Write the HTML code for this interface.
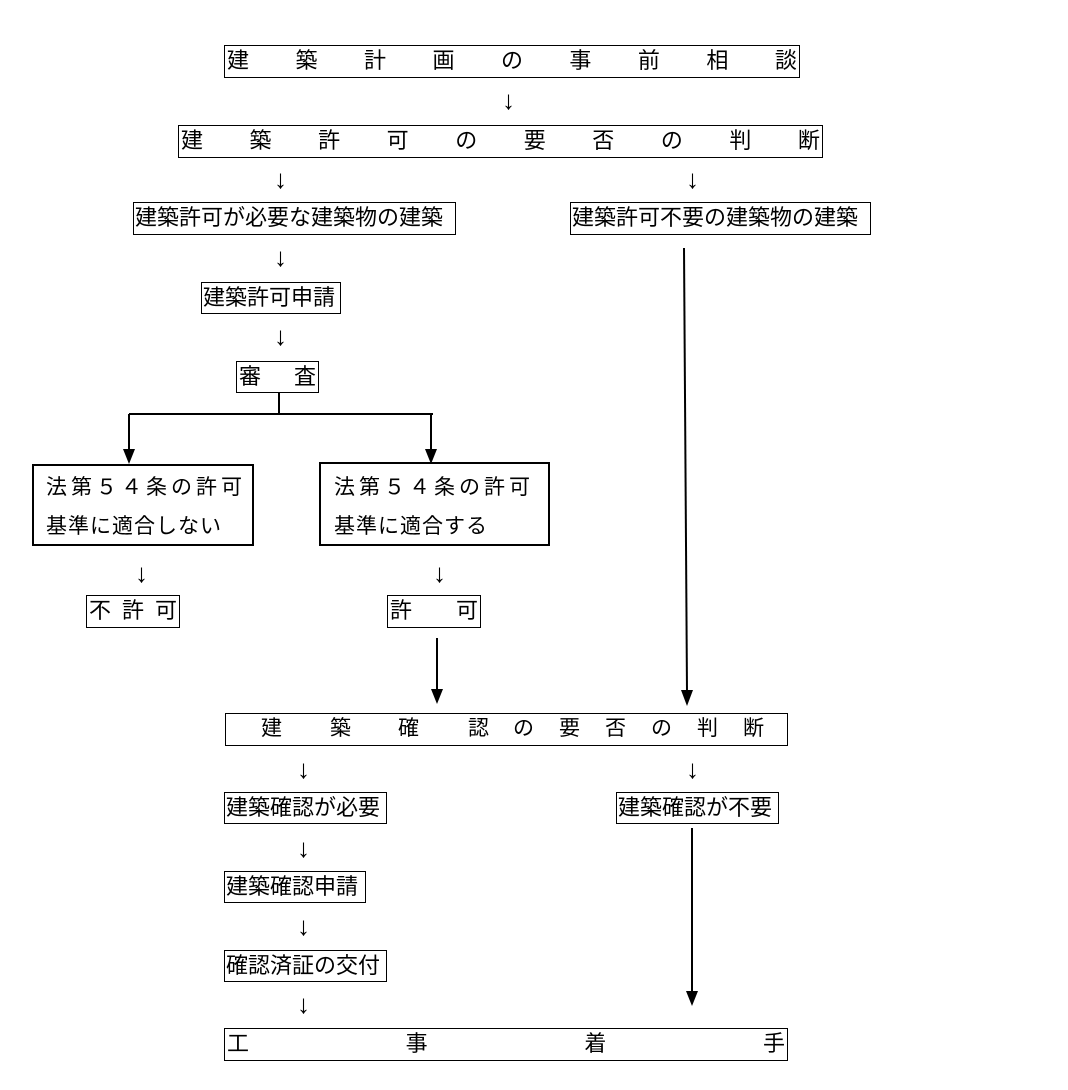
<!DOCTYPE html>
<html><head><meta charset="utf-8"><style>
body{margin:0;width:1068px;height:1090px;background:#fff;position:relative;font-family:"Liberation Sans","Noto Sans CJK JP",sans-serif;color:#000;overflow:hidden}
.b{position:absolute;border:1px solid #000;box-sizing:border-box;font-size:22px;line-height:30px;white-space:nowrap}
.s{display:flex;justify-content:space-between;padding:0 2px}
.c{position:absolute;font-size:21px;line-height:30px}
.a{position:absolute;font-size:26px;line-height:26px}
.t{position:absolute;font-size:21px;line-height:40px;white-space:nowrap;letter-spacing:4px}
</style></head><body>
<div class="b s" style="left:224px;top:45px;width:576px;height:33px"><span>建</span><span>築</span><span>計</span><span>画</span><span>の</span><span>事</span><span>前</span><span>相</span><span>談</span></div>
<div class="b s" style="left:178px;top:125px;width:645px;height:33px"><span>建</span><span>築</span><span>許</span><span>可</span><span>の</span><span>要</span><span>否</span><span>の</span><span>判</span><span>断</span></div>
<div class="b" style="left:133px;top:202px;width:323px;height:33px;padding-left:1px">建築許可が必要な建築物の建築</div>
<div class="b" style="left:570px;top:202px;width:301px;height:33px;padding-left:1px">建築許可不要の建築物の建築</div>
<div class="b" style="left:201px;top:282px;width:140px;height:32px;padding-left:1px">建築許可申請</div>
<div class="b s" style="left:236px;top:361px;width:83px;height:32px"><span>審</span><span>査</span></div>
<div class="b" style="left:32px;top:464px;width:222px;height:82px;border-width:2px"><div class="t" style="left:12px;top:2px">法第５４条の許可</div><div class="t" style="left:12px;top:41px;letter-spacing:1px">基準に適合しない</div></div>
<div class="b" style="left:319px;top:462px;width:231px;height:84px;border-width:2px"><div class="t" style="left:13px;top:4px">法第５４条の許可</div><div class="t" style="left:13px;top:43px;letter-spacing:1px">基準に適合する</div></div>
<div class="b s" style="left:86px;top:595px;width:94px;height:33px"><span>不</span><span>許</span><span>可</span></div>
<div class="b s" style="left:387px;top:595px;width:94px;height:33px"><span>許</span><span>可</span></div>
<div class="b" style="left:225px;top:713px;width:563px;height:33px">
<span class="c" style="left:35px">建</span><span class="c" style="left:104px">築</span><span class="c" style="left:172px">確</span><span class="c" style="left:242px">認</span><span class="c" style="left:287px">の</span><span class="c" style="left:333px">要</span><span class="c" style="left:379px">否</span><span class="c" style="left:425px">の</span><span class="c" style="left:471px">判</span><span class="c" style="left:517px">断</span></div>
<div class="b" style="left:224px;top:792px;width:163px;height:32px;padding-left:1px">建築確認が必要</div>
<div class="b" style="left:616px;top:792px;width:163px;height:32px;padding-left:1px">建築確認が不要</div>
<div class="b" style="left:224px;top:871px;width:142px;height:32px;padding-left:1px">建築確認申請</div>
<div class="b" style="left:224px;top:950px;width:163px;height:32px;padding-left:1px">確認済証の交付</div>
<div class="b s" style="left:224px;top:1028px;width:564px;height:33px"><span>工</span><span>事</span><span>着</span><span>手</span></div>
<div class="a" style="left:502px;top:87px">↓</div>
<div class="a" style="left:274px;top:166px">↓</div>
<div class="a" style="left:686px;top:166px">↓</div>
<div class="a" style="left:274px;top:244px">↓</div>
<div class="a" style="left:274px;top:323px">↓</div>
<div class="a" style="left:135px;top:560px">↓</div>
<div class="a" style="left:433px;top:560px">↓</div>
<div class="a" style="left:297px;top:756px">↓</div>
<div class="a" style="left:686px;top:756px">↓</div>
<div class="a" style="left:297px;top:835px">↓</div>
<div class="a" style="left:297px;top:913px">↓</div>
<div class="a" style="left:297px;top:991px">↓</div>
<svg width="1068" height="1090" style="position:absolute;left:0;top:0">
<g stroke="#000" stroke-width="2" fill="none">
<line x1="279" y1="392" x2="279" y2="414"/>
<line x1="129" y1="414" x2="433" y2="414"/>
<line x1="129" y1="414" x2="129" y2="450"/>
<line x1="431" y1="414" x2="431" y2="450"/>
<line x1="684" y1="248" x2="687" y2="692"/>
<line x1="437" y1="638" x2="437" y2="690"/>
<line x1="692" y1="828" x2="692" y2="992"/>
</g>
<g fill="#000">
<polygon points="123,449 135,449 129,464"/>
<polygon points="425,449 437,449 431,464"/>
<polygon points="681,690 693,690 687,706"/>
<polygon points="431,689 443,689 437,704"/>
<polygon points="686,991 698,991 692,1006"/>
</g>
</svg>
</body></html>
